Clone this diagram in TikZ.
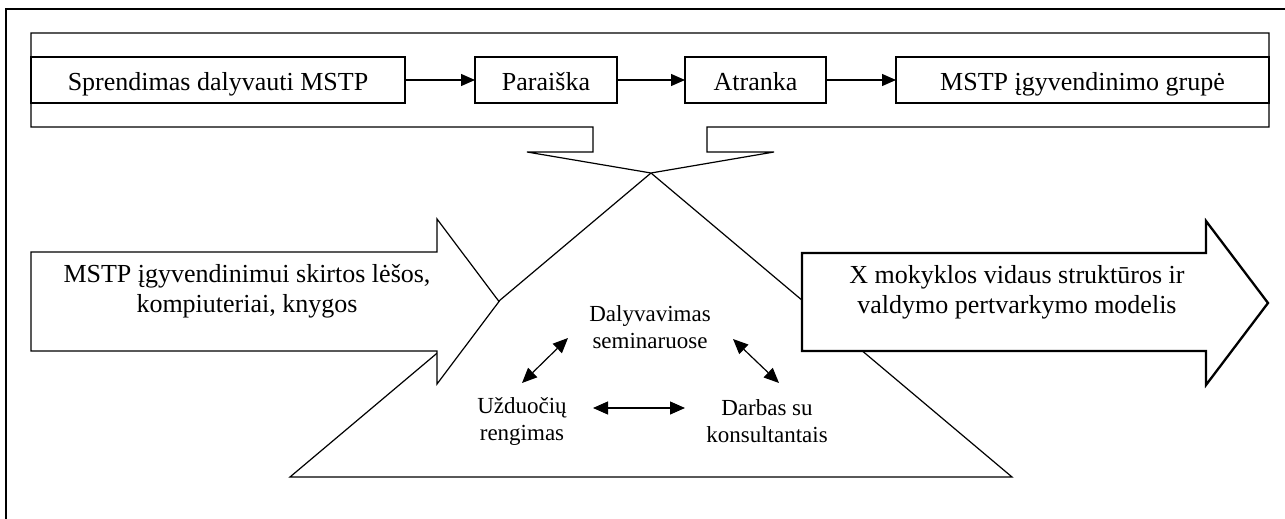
\documentclass[tikz,border=0pt]{standalone}
\usepackage{fontspec}
\setmainfont{Liberation Serif}
\usetikzlibrary{arrows.meta}
\begin{document}
\begin{tikzpicture}[x=1pt,y=-1pt,
  thin line/.style={line width=1.2pt},
  stagebox/.style={draw, thin line, minimum height=46pt, inner sep=0pt, outer sep=0pt,
    text height=20pt, text depth=0pt, font=\fontsize{26}{31}\selectfont},
  flowarrow/.style={thin line, -{Triangle[length=14pt,width=12pt]}},
  linkarrow/.style={thin line, {Triangle[length=15pt,width=13pt]}-{Triangle[length=15pt,width=13pt]}},
  bigtext/.style={align=center, inner sep=0pt, font=\fontsize{26}{30}\selectfont},
  smalltext/.style={align=center, inner sep=0pt, font=\fontsize{23}{27}\selectfont},
  shape outline/.style={draw, thin line, fill=white, line join=miter},
  bold outline/.style={draw, line width=2.3pt, fill=white, line join=miter}]
\useasboundingbox (0,0) rectangle (1285,519);
\clip (0,0) rectangle (1285,519);

% outer frame
\draw[thin line] (6,540) -- (6,9) -- (1300,9);

% process triangle below the funnel
\draw[shape outline] (651,173) -- (1012,477) -- (290,477) -- cycle;

% top band narrowing to a funnel
\draw[shape outline] (31,33) -- (1269,33) -- (1269,127) -- (707,127) -- (707,152)
  -- (774,152) -- (651,173) -- (527,152) -- (593,152) -- (593,127) -- (31,127) -- cycle;

% input arrow (resources)
\draw[shape outline] (31,252) -- (437,252) -- (437,219) -- (499,301.5) -- (437,384)
  -- (437,351) -- (31,351) -- cycle;

% output arrow (model)
\draw[bold outline] (802,253) -- (1206,253) -- (1206,221) -- (1268,303) -- (1206,385)
  -- (1206,351) -- (802,351) -- cycle;

% stages of the selection procedure
\node[stagebox, minimum width=374pt] (decision) at (218,80) {Sprendimas dalyvauti MSTP};
\node[stagebox, minimum width=142pt] (application) at (546,80) {Paraiška};
\node[stagebox, minimum width=141pt] (selection) at (755.5,80) {Atranka};
\node[stagebox, minimum width=373pt] (group) at (1082.5,80) {MSTP įgyvendinimo grupė};

\draw[flowarrow] (decision) -- (application);
\draw[flowarrow] (application) -- (selection);
\draw[flowarrow] (selection) -- (group);

% texts inside the arrows
\node[bigtext] (resources) at (247,291) {MSTP įgyvendinimui skirtos lėšos,\\kompiuteriai, knygos};
\node[bigtext] (model) at (1017,292) {X mokyklos vidaus struktūros ir\\valdymo pertvarkymo modelis};

% activities inside the triangle
\node[smalltext] (seminars) at (650,327) {Dalyvavimas\\seminaruose};
\node[smalltext] (tasks) at (522,421) {Užduočių\\rengimas};
\node[smalltext] (consult) at (767,421) {Darbas su\\konsultantais};

\coordinate (tasksUp) at (522,383);
\coordinate (seminarsLeft) at (568,338);
\coordinate (seminarsRight) at (733,339);
\coordinate (consultUp) at (779,383);
\coordinate (tasksRight) at (593,408);
\coordinate (consultLeft) at (685,408);

\draw[linkarrow] (tasksUp) -- (seminarsLeft);
\draw[linkarrow] (seminarsRight) -- (consultUp);
\draw[linkarrow] (tasksRight) -- (consultLeft);
\end{tikzpicture}
\end{document}
